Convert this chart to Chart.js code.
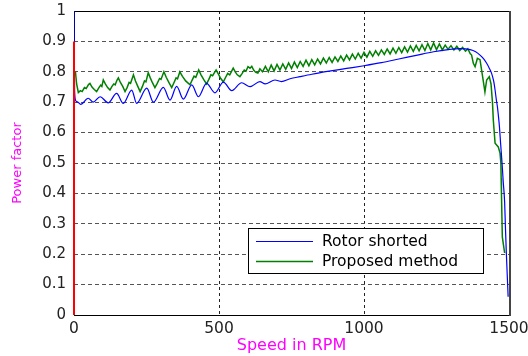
<!DOCTYPE html>
<html>
<head>
<meta charset="utf-8">
<script src="https://cdn.jsdelivr.net/npm/chart.js@4.4.0/dist/chart.umd.min.js"></script>
<style>
  html, body { margin: 0; padding: 0; background: #fff; }
  #wrap { width: 528px; height: 356px; }
</style>
</head>
<body>
<div id="wrap"><canvas id="pf-chart" width="528" height="356"></canvas></div>
<script>
// values
const speedBlue = [0, 2, 6, 14, 23, 49, 66, 90, 118, 147, 170, 199, 216, 251, 274,
    308, 331, 354, 377, 406, 429, 457, 486, 515, 544, 578, 607, 641, 659, 693,
    715, 745, 779, 820, 880, 940, 1000, 1060, 1120, 1180, 1240, 1290, 1330, 1366, 1385,
    1400, 1412, 1423, 1432, 1440, 1447, 1452, 1456, 1460, 1464, 1467, 1471, 1476, 1480,
    1485, 1488, 1491, 1494, 1497];
const pfBlue = [1.0, 0.74, 0.705, 0.700, 0.693, 0.713, 0.700, 0.718, 0.698, 0.729, 0.696, 0.740, 0.696, 0.746, 0.700,
    0.749, 0.707, 0.752, 0.710, 0.757, 0.718, 0.762, 0.731, 0.766, 0.738, 0.764, 0.751, 0.768, 0.760, 0.773,
    0.768, 0.777, 0.784, 0.792, 0.802, 0.811, 0.820, 0.830, 0.842, 0.854, 0.866, 0.873, 0.876, 0.873, 0.866,
    0.855, 0.843, 0.828, 0.812, 0.795, 0.770, 0.740, 0.710, 0.685, 0.650, 0.620, 0.565, 0.500, 0.440,
    0.370, 0.280, 0.200, 0.130, 0.060];

const speedGreen = [5, 9, 15, 22, 28, 36, 42, 50, 55, 62, 70, 78, 86, 92, 96,
    101, 108, 116, 124, 131, 137, 142, 148, 153, 160, 168, 176, 183, 190, 195,
    205, 212, 220, 228, 236, 243, 248, 256, 263, 270, 279, 287, 295, 300, 310,
    318, 327, 337, 345, 352, 357, 365, 374, 385, 400, 407, 414, 420, 430, 438,
    447, 457, 465, 472, 478, 490, 498, 506, 515, 523, 530, 537, 549, 556, 563,
    572, 580, 587, 593, 600, 607, 613, 620, 627, 634, 641, 650,
    660, 670, 680, 690, 700, 710, 720, 730, 740, 750, 760, 770, 780, 790, 800,
    810, 820, 830, 840, 850, 860, 870, 880, 890, 900, 910, 920, 930, 940, 950,
    960, 970, 980, 990, 1000, 1010, 1020, 1030, 1040, 1050, 1060, 1070, 1080, 1090, 1100,
    1110, 1120, 1130, 1140, 1150, 1160, 1170, 1180, 1190, 1200, 1210, 1220, 1230, 1240, 1250,
    1260, 1270, 1280, 1290, 1300, 1310, 1320, 1330, 1340,
    1350, 1358, 1366, 1371, 1377, 1383, 1391, 1400, 1409, 1417, 1423, 1432, 1438, 1443, 1446,
    1452, 1463, 1469, 1472, 1473, 1474, 1477, 1481, 1485];
const pfGreen = [0.80, 0.76, 0.732, 0.738, 0.735, 0.748, 0.745, 0.758, 0.762, 0.75, 0.742, 0.735, 0.748, 0.756, 0.752,
    0.773, 0.76, 0.748, 0.74, 0.752, 0.76, 0.757, 0.772, 0.78, 0.765, 0.752, 0.735, 0.748, 0.765, 0.762,
    0.79, 0.77, 0.752, 0.735, 0.752, 0.77, 0.767, 0.797, 0.78, 0.765, 0.748, 0.762, 0.778, 0.775, 0.80,
    0.782, 0.765, 0.748, 0.765, 0.78, 0.777, 0.80, 0.785, 0.77, 0.757, 0.772, 0.786, 0.782, 0.806, 0.79,
    0.775, 0.76, 0.775, 0.79, 0.787, 0.806, 0.792, 0.778, 0.767, 0.782, 0.795, 0.79, 0.812, 0.8, 0.79,
    0.784, 0.795, 0.806, 0.802, 0.817, 0.812, 0.818, 0.805, 0.798, 0.796, 0.81, 0.8,
    0.818, 0.800, 0.822, 0.803, 0.824, 0.806, 0.826, 0.808, 0.829, 0.811, 0.832, 0.814, 0.834, 0.818, 0.838,
    0.820, 0.840, 0.823, 0.842, 0.826, 0.845, 0.829, 0.847, 0.831, 0.849, 0.834, 0.852, 0.836, 0.855, 0.839,
    0.858, 0.842, 0.861, 0.845, 0.864, 0.848, 0.867, 0.851, 0.869, 0.854, 0.872, 0.857, 0.875, 0.859, 0.878,
    0.861, 0.880, 0.863, 0.882, 0.865, 0.885, 0.867, 0.887, 0.869, 0.889, 0.870, 0.893, 0.872, 0.895, 0.873,
    0.892, 0.872, 0.888, 0.874, 0.886, 0.872, 0.884, 0.870, 0.880,
    0.868, 0.876, 0.860, 0.855, 0.828, 0.817, 0.844, 0.840, 0.784, 0.734, 0.773, 0.784, 0.760, 0.700, 0.640,
    0.565, 0.553, 0.533, 0.500, 0.450, 0.400, 0.257, 0.230, 0.204];

// red vertical trace at zero speed
const speedRed = [0, 0];
const pfRed = [0, 0.9];

const seriesNames = ['Rotor shorted', 'Proposed method'];
const xTicks = [0, 500, 1000, 1500];
const yTicks = [0, 0.1, 0.2, 0.3, 0.4, 0.5, 0.6, 0.7, 0.8, 0.9, 1];

function toPoints(xs, ys) {
    return xs.map((x, i) => ({ x: x, y: ys[i] }));
}

// box round the plot area
const frameBox = {
    id: 'frameBox',
    beforeDatasetsDraw(chart) {
        const { ctx, chartArea: a } = chart;
        ctx.save();
        ctx.strokeStyle = '#000';
        ctx.lineWidth = 1;
        ctx.strokeRect(a.left + 0.5, a.top + 0.5, a.right - a.left, a.bottom - a.top);
        ctx.strokeStyle = '#444';
        ctx.lineWidth = 2;
        ctx.beginPath();
        ctx.moveTo(a.right + 1, a.top);
        ctx.lineTo(a.right + 1, a.bottom + 1);
        ctx.stroke();
        ctx.restore();
    }
};

// legend drawn inside the plot, lower right
const insideLegend = {
    id: 'insideLegend',
    afterDatasetsDraw(chart) {
        const { ctx, chartArea: a } = chart;
        const bx = a.right - 261, by = a.bottom - 87, bw = 235, bh = 45;
        ctx.save();
        ctx.fillStyle = '#fff';
        ctx.fillRect(bx, by, bw, bh);
        ctx.strokeStyle = '#000';
        ctx.lineWidth = 1;
        ctx.strokeRect(bx + 0.5, by + 0.5, bw, bh);
        ctx.font = '15.5px "DejaVu Sans"';
        ctx.textBaseline = 'middle';
        seriesNames.forEach((name, i) => {
            const ds = chart.data.datasets[i];
            const y = by + 13 + i * 20;
            ctx.strokeStyle = ds.borderColor;
            ctx.lineWidth = ds.borderWidth;
            ctx.beginPath();
            ctx.moveTo(bx + 8, y + 0.5);
            ctx.lineTo(bx + 65, y + 0.5);
            ctx.stroke();
            ctx.fillStyle = '#000';
            ctx.fillText(name, bx + 74, y + 1);
        });
        ctx.restore();
    }
};

const ctx = document.getElementById('pf-chart');
new Chart(ctx, {
    type: 'line',
    data: {
        datasets: [
            {
                label: seriesNames[0],
                data: toPoints(speedBlue, pfBlue),
                borderColor: '#0000ff',
                borderWidth: 1.2,
                pointRadius: 0,
                cubicInterpolationMode: 'monotone',
                order: 1
            },
            {
                label: seriesNames[1],
                data: toPoints(speedGreen, pfGreen),
                borderColor: '#008000',
                borderWidth: 1.5,
                pointRadius: 0,
                tension: 0,
                order: 2
            },
            {
                label: '',
                data: toPoints(speedRed, pfRed),
                borderColor: '#ff0000',
                borderWidth: 2,
                pointRadius: 0,
                clip: 3,
                order: 0
            }
        ]
    },
    options: {
        responsive: false,
        animation: false,
        events: [],
        layout: { padding: { top: 11, right: 19, left: 0, bottom: 0 } },
        plugins: {
            legend: { display: false },
            tooltip: { enabled: false }
        },
        scales: {
            x: {
                type: 'linear',
                min: 0,
                max: 1500,
                afterBuildTicks: (scale) => { scale.ticks = xTicks.map(v => ({ value: v })); },
                afterFit: (scale) => {
                    scale.height = 41;
                    scale.paddingLeft = 0;
                    scale.paddingRight = 0;
                },
                grid: {
                    drawTicks: false,
                    lineWidth: 1,
                    color: (c) => (c.tick && (c.tick.value === 0 || c.tick.value === 1500)) ? 'rgba(0,0,0,0)' : '#222'
                },
                border: { display: false, dash: [3, 3] },
                ticks: {
                    padding: 5,
                    color: '#222',
                    maxRotation: 0,
                    font: { family: 'DejaVu Sans', size: 15.5 },
                    callback: (v) => String(v)
                },
                title: {
                    display: true,
                    text: 'Speed in RPM',
                    color: '#ff00ff',
                    font: { family: 'DejaVu Sans', size: 16 },
                    padding: { top: 0, bottom: 1 }
                }
            },
            y: {
                min: 0,
                max: 1,
                afterBuildTicks: (scale) => { scale.ticks = yTicks.map(v => ({ value: v })); },
                afterFit: (scale) => {
                    scale.width = 74;
                    scale.paddingTop = 0;
                    scale.paddingBottom = 0;
                },
                grid: {
                    drawTicks: false,
                    lineWidth: 1,
                    color: (c) => (c.tick && (c.tick.value === 0 || c.tick.value === 1)) ? 'rgba(0,0,0,0)' : '#555'
                },
                border: { display: false, dash: [4, 3] },
                ticks: {
                    padding: 8,
                    color: '#222',
                    font: { family: 'DejaVu Sans', size: 15 },
                    callback: (v) => String(+v.toFixed(1))
                },
                title: {
                    display: true,
                    text: 'Power factor',
                    color: '#ff00ff',
                    font: { family: 'DejaVu Sans', size: 13 },
                    padding: { top: 10, bottom: 0 }
                }
            }
        }
    },
    plugins: [frameBox, insideLegend]
});
</script>
</body>
</html>
